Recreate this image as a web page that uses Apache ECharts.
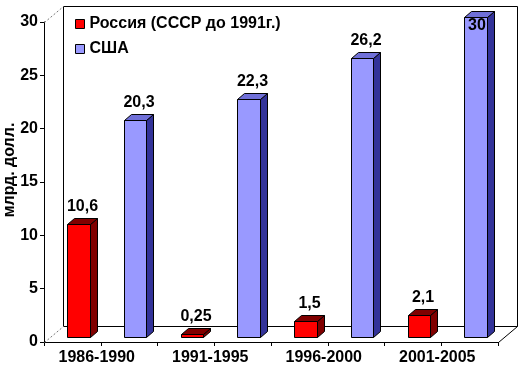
<!DOCTYPE html>
<html><head><meta charset="utf-8">
<script src="https://cdn.jsdelivr.net/npm/echarts@6/dist/echarts.min.js"></script>
<style>html,body{margin:0;padding:0;background:#fff}#c{width:523px;height:369px}</style>
</head><body><div id="c"></div>
<script>
var categories = ['1986-1990', '1991-1995', '1996-2000', '2001-2005'];
var russia = [10.6, 0.25, 1.5, 2.1];
var usa = [20.3, 22.3, 26.2, 30];
var seriesNames = ['Россия (СССР до 1991г.)', 'США'];
var yMin = 0, yMax = 30, yStep = 5;
var yTitle = 'млрд. долл.';

var FONT = "'Liberation Sans', Arial, sans-serif";
var DEPTH = [19, -16];      // floor depth
var PLANE = [6, -5];        // bar plane offset from front edge
var BOX = [7, -6];          // bar depth

function fmt(v) { return String(v).replace('.', ','); }

function makeBar(off, front, top, side) {
  return function (params, api) {
    var i = api.value(0), v = api.value(1);
    var base = api.coord([i, 0]);
    var tp = api.coord([i, v]);
    var band = api.size([1, 0])[0];
    var gridTop = api.coord([i, yMax])[1];
    var cx = base[0] + off * band + PLANE[0];
    var w = 0.2 * band;
    var x0 = Math.round(cx - w / 2) + 0.5, x1 = Math.round(cx + w / 2) + 0.5;
    var yb = Math.round(base[1] + PLANE[1]) + 0.5, yt = Math.round(tp[1] + PLANE[1]) + 0.5;
    var bx = BOX[0], by = BOX[1];
    var st = { stroke: '#000', lineWidth: 1 };
    var ly = yt + by - 4, lx = (x0 + x1) / 2 + bx / 2;
    if (ly - 14 < gridTop) { ly = gridTop + 12; lx = (x0 + x1) / 2 + 1; }
    return {
      type: 'group',
      children: [
        { type: 'polygon', shape: { points: [[x1, yt], [x1, yb], [x1 + bx, yb + by], [x1 + bx, yt + by]] },
          style: Object.assign({ fill: side }, st) },
        { type: 'polygon', shape: { points: [[x0, yt], [x1, yt], [x1 + bx, yt + by], [x0 + bx, yt + by]] },
          style: Object.assign({ fill: top }, st) },
        { type: 'rect', shape: { x: x0, y: yt, width: x1 - x0, height: yb - yt },
          style: Object.assign({ fill: front }, st) },
        { type: 'text', z2: 10, style: { text: fmt(v), x: lx, y: ly,
          align: 'center', verticalAlign: 'bottom', fill: '#000',
          font: 'bold 16px ' + FONT } }
      ]
    };
  };
}

function renderFrame(params, api) {
  var p0 = api.coord([0, yMin]);
  var p1 = api.coord([2 * categories.length, yMax]);
  var dx = DEPTH[0], dy = DEPTH[1];
  var L = Math.round(p0[0]) + 0.5, R = Math.round(p1[0]) + 0.5;
  var B = Math.round(p0[1]) + 0.5, T = Math.round(p1[1]) + 0.5;
  var solid = { stroke: '#000', lineWidth: 1 };
  var dash = { stroke: '#777', lineWidth: 1, lineDash: [2, 2] };
  return {
    type: 'group',
    children: [
      { type: 'rect', shape: { x: L + dx, y: T + dy, width: R - L, height: B - T },
        style: { fill: '#fff', stroke: '#000', lineWidth: 1 } },
      { type: 'line', shape: { x1: L, y1: T, x2: L + dx, y2: T + dy }, style: dash },
      { type: 'line', shape: { x1: L, y1: B, x2: L + dx, y2: B + dy }, style: dash },
      { type: 'line', shape: { x1: R, y1: B, x2: R + dx, y2: B + dy }, style: solid }
    ]
  };
}

var chart = echarts.init(document.getElementById('c'), null, { renderer: 'canvas' });
var ruData = russia.map(function (v, i) { return [i, v]; });
var usData = usa.map(function (v, i) { return [i, v]; });

chart.setOption({
  animation: false,
  backgroundColor: '#fff',
  textStyle: { fontFamily: FONT },
  grid: { left: 44, top: 22, width: 454, height: 320 },
  legend: {
    data: seriesNames,
    orient: 'vertical',
    left: 70, top: 11,
    itemWidth: 9, itemHeight: 9, itemGap: 9,
    icon: 'rect',
    itemStyle: { borderColor: '#000', borderWidth: 1 },
    textStyle: { fontFamily: FONT, fontWeight: 'bold', fontSize: 16, color: '#000' },
    selectedMode: false
  },
  xAxis: [
    { type: 'category', data: categories, position: 'bottom',
      axisLine: { show: false }, axisTick: { show: false },
      axisLabel: { margin: 8, color: '#000', fontFamily: FONT, fontWeight: 'bold', fontSize: 16,
        padding: [0, 8, 0, 0] } },
    { type: 'value', min: 0, max: 2 * categories.length, interval: 1, position: 'bottom',
      axisLine: { show: true, lineStyle: { color: '#000', width: 1 } },
      axisTick: { show: true, length: 4, lineStyle: { color: '#000' } },
      axisLabel: { show: false }, splitLine: { show: false } }
  ],
  yAxis: {
    type: 'value', min: yMin, max: yMax, interval: yStep,
    axisLine: { show: true, lineStyle: { color: '#000', width: 1 } },
    axisTick: { show: true, length: 4, lineStyle: { color: '#000' } },
    axisLabel: { margin: 6, color: '#000', fontFamily: FONT, fontWeight: 'bold', fontSize: 16 },
    splitLine: { show: false }
  },
  graphic: [{
    type: 'text', rotation: Math.PI / 2,
    x: 10, y: 170,
    style: { text: yTitle, font: 'bold 16px ' + FONT, fill: '#000', align: 'center', verticalAlign: 'middle' }
  }],
  series: [
    { type: 'custom', name: 'frame', xAxisIndex: 1, yAxisIndex: 0, z: 1, silent: true,
      renderItem: renderFrame, data: [[0, 0]] },
    { type: 'custom', name: seriesNames[0], xAxisIndex: 0, yAxisIndex: 0, z: 3,
      itemStyle: { color: '#ff0000' },
      renderItem: makeBar(-0.25, '#ff0000', '#800000', '#800000'), data: ruData },
    { type: 'custom', name: seriesNames[1], xAxisIndex: 0, yAxisIndex: 0, z: 3,
      itemStyle: { color: '#9999ff' },
      renderItem: makeBar(0.25, '#9999ff', '#7070d8', '#333399'), data: usData }
  ]
});
</script></body></html>
